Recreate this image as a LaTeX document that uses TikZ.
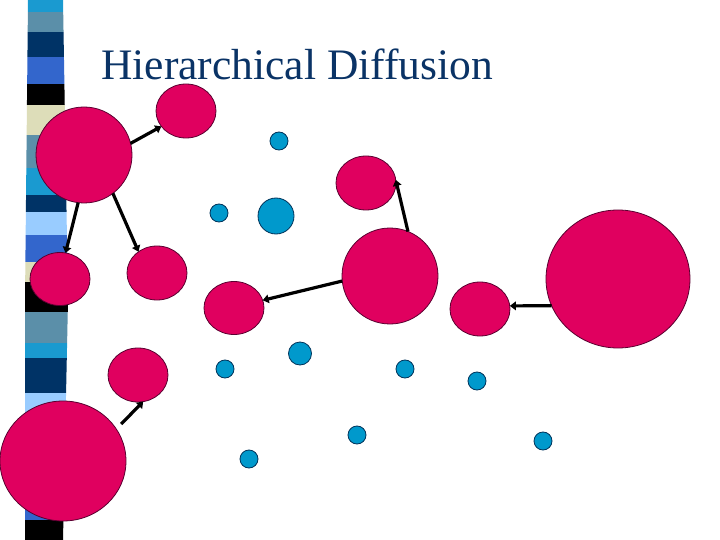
\documentclass[tikz,border=0pt]{standalone}
\usepackage{fontspec}
\setmainfont{Liberation Serif}
\usetikzlibrary{shapes.geometric,arrows.meta}
\definecolor{mag}{HTML}{E0005F}
\definecolor{magline}{HTML}{5A0030}
\definecolor{cya}{HTML}{0099CC}
\definecolor{cyaline}{HTML}{00335A}
\definecolor{titlec}{HTML}{0A3366}
\definecolor{stcyan}{HTML}{1A9AD0}
\definecolor{ststeel}{HTML}{5B8FA9}
\definecolor{stnavy}{HTML}{003366}
\definecolor{stroyal}{HTML}{3366CC}
\definecolor{stbeige}{HTML}{DDDDB9}
\definecolor{stlight}{HTML}{99CCFF}
\tikzset{
  bigc/.style={ellipse,fill=mag,draw=magline,line width=0.8pt,inner sep=0pt,outer sep=0pt},
  smallc/.style={circle,fill=cya,draw=cyaline,line width=0.8pt,inner sep=0pt,outer sep=0pt},
  arr/.style={line width=3.2pt,-{Triangle[length=6pt,width=8.5pt]}},
}
\begin{document}
\begin{tikzpicture}[x=1pt,y=-1pt]
\useasboundingbox (0,0) rectangle (720,540);
\fill[white] (0,0) rectangle (720,540);
% decorative stripe band
\begin{scope}
\clip (28,0) -- (63,0) -- (68,300) -- (63,540) -- (25,540) -- (25,300) -- cycle;
\foreach \a/\b/\c in {0/12/stcyan,12/32/ststeel,32/57/stnavy,57/84/stroyal,84/105/black,
  105/135/stbeige,135/168/ststeel,168/195/stcyan,195/212/stnavy,212/235/stlight,
  235/262/stroyal,262/282/stbeige,282/312/black,312/343/ststeel,343/358/stcyan,
  358/393/stnavy,393/420/stlight,420/460/stroyal,460/500/black,500/520/stroyal,520/540/black}
  \fill[\c] (0,\a) rectangle (80,\b);
\end{scope}
% title
\node[anchor=base west,inner sep=0pt,text=titlec,font=\fontsize{43.5}{50}\selectfont] (title) at (101,80) {Hierarchical Diffusion};
% magenta nodes
\node[bigc,minimum width=96pt,minimum height=96pt] (b1) at (84,155) {};
\node[bigc,minimum width=60pt,minimum height=54pt] (c2) at (186,111) {};
\node[bigc,minimum width=60pt,minimum height=53pt] (c3) at (60,279) {};
\node[bigc,minimum width=60pt,minimum height=54pt] (c4) at (157,273) {};
\node[bigc,minimum width=60pt,minimum height=54pt] (c5) at (366,183) {};
\node[bigc,minimum width=96pt,minimum height=96pt] (b6) at (390,276) {};
\node[bigc,minimum width=60pt,minimum height=53pt] (c7) at (234,308) {};
\node[bigc,minimum width=60pt,minimum height=54pt] (c8) at (480,309) {};
\node[bigc,minimum width=144pt,minimum height=138pt] (b9) at (618,279) {};
\node[bigc,minimum width=60pt,minimum height=54pt] (c10) at (138,375) {};
\node[bigc,minimum width=126pt,minimum height=120pt] (b11) at (63,461) {};
% blue nodes
\node[smallc,minimum size=18pt] (s1) at (279,141) {};
\node[smallc,minimum size=18pt] (s2) at (219,213) {};
\node[smallc,minimum size=36pt] (s3) at (276,216) {};
\node[smallc,minimum size=23pt] (s4) at (300,353.5) {};
\node[smallc,minimum size=18pt] (s5) at (225,369) {};
\node[smallc,minimum size=18pt] (s6) at (405,369) {};
\node[smallc,minimum size=18pt] (s7) at (477,381) {};
\node[smallc,minimum size=18pt] (s8) at (357,435) {};
\node[smallc,minimum size=18pt] (s9) at (249,459) {};
\node[smallc,minimum size=18pt] (s10) at (543,441) {};
% arrows
\draw[arr] (b1.14) -- (c2.212);
\draw[arr] (b1.307) -- (c4.131);
\draw[arr] (b1.263) -- (c3.78);
\draw[arr] (b6.186) -- (c7.15);
\draw[arr] (b6.68) -- (c5.6);
\draw[arr] (b9.202) -- (c8.6);
\draw[arr,shorten <=7pt] (b11.31) -- (c10.281);
\end{tikzpicture}
\end{document}
